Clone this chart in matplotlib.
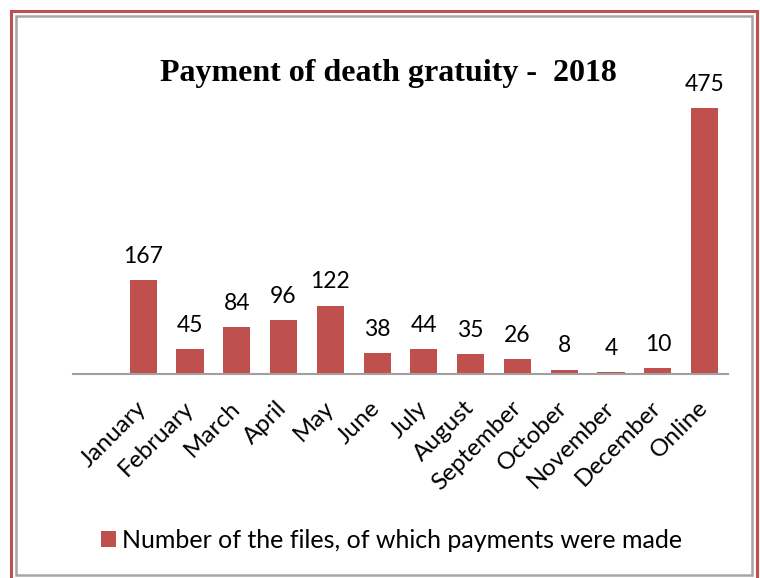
import matplotlib
matplotlib.use('Agg')
import matplotlib.pyplot as plt
from matplotlib.patches import Rectangle
import numpy as np

# data
categories = ['January', 'February', 'March', 'April', 'May', 'June', 'July',
              'August', 'September', 'October', 'November', 'December', 'Online']
files_paid = [167, 45, 84, 96, 122, 38, 44, 35, 26, 8, 4, 10, 475]
series_name = 'Number of the files, of which payments were made'
title = 'Payment of death gratuity -  2018'

bar_color = '#C0504D'
W, H = 760, 578

plt.rcParams['font.family'] = ['Lato', 'DejaVu Sans']

fig = plt.figure(figsize=(W / 100, H / 100), dpi=100)
fig.patch.set_facecolor('white')

# plot area in pixels: x 73..728, baseline at y=374, 500 units -> 280 px
ax = fig.add_axes([73 / W, 1 - 374 / H, (728 - 73) / W, 280 / H])
x = np.arange(len(categories))
bars = ax.bar(x, files_paid, width=0.58, color=bar_color, label=series_name, zorder=2)
ax.set_xlim(-1.5, len(categories) - 0.5)
ax.set_ylim(0, 500)

for b, v in zip(bars, files_paid):
    ax.annotate(str(v), (b.get_x() + b.get_width() / 2, b.get_height()),
                xytext=(0, 9.5), textcoords='offset points',
                ha='center', va='bottom', fontsize=16.5, color='black')

for s in ['top', 'left', 'right']:
    ax.spines[s].set_visible(False)
ax.spines['bottom'].set_color('#A0A0A0')
ax.spines['bottom'].set_linewidth(1.5)
ax.set_yticks([])
ax.set_xticks(x)
ax.set_xticklabels(categories, rotation=45, ha='right', va='center',
                   rotation_mode='anchor', fontsize=17.5)
ax.tick_params(axis='x', length=0, pad=22)

fig.text(388 / W, 1 - 73 / H, title, ha='center', va='center',
         fontsize=23, fontweight='bold', family='Liberation Serif')

leg = ax.legend(loc='center left', bbox_to_anchor=(78 / W, 1 - 540 / H),
                bbox_transform=fig.transFigure, frameon=False, fontsize=18,
                handlelength=0.6, handleheight=0.6, handletextpad=0.25)

# chart frame: gray inner shadow line and red outer border
fig.patches.append(Rectangle((16 / W, 1 - 575 / H), (752 - 16) / W, (575 - 16) / H,
                             transform=fig.transFigure, fill=False,
                             edgecolor='#A6A6A6', lw=1.8))
fig.patches.append(Rectangle((11 / W, -0.02), (757 - 11) / W, 1 - 11 / H + 0.02,
                             transform=fig.transFigure, fill=False,
                             edgecolor=bar_color, lw=2.2))

fig.savefig('out.png', dpi=100)
